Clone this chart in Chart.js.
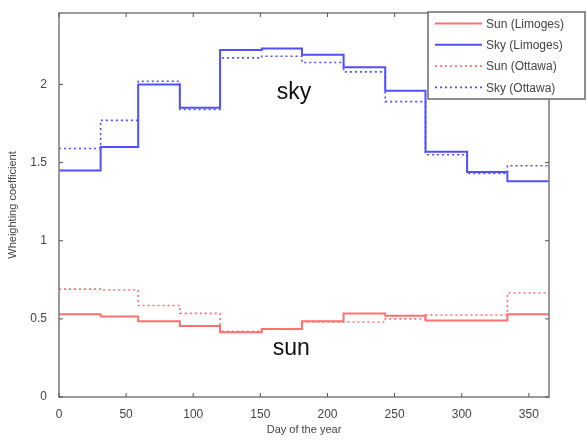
<!DOCTYPE html>
<html>
<head>
<meta charset="utf-8">
<script src="https://cdn.jsdelivr.net/npm/chart.js@4.4.0/dist/chart.umd.min.js"></script>
<style>
  html, body { margin: 0; padding: 0; background: #fff; }
  #wrap { width: 587px; height: 441px; }
</style>
</head>
<body>
<div id="wrap"><canvas id="myChart"></canvas></div>
<script>
// first day of each month, last point closes December
const days = [0, 31, 59, 90, 120, 151, 181, 212, 243, 273, 304, 334, 365];
const sunLimoges = [0.53, 0.515, 0.485, 0.455, 0.415, 0.435, 0.485, 0.535, 0.52, 0.49, 0.49, 0.53];
const skyLimoges = [1.45, 1.60, 2.00, 1.85, 2.22, 2.23, 2.19, 2.11, 1.96, 1.57, 1.44, 1.38];
const sunOttawa = [0.69, 0.685, 0.585, 0.535, 0.42, 0.435, 0.48, 0.48, 0.50, 0.525, 0.525, 0.665];
const skyOttawa = [1.59, 1.77, 2.02, 1.84, 2.17, 2.18, 2.14, 2.08, 1.89, 1.55, 1.43, 1.48];
const xTicks = [0, 50, 100, 150, 200, 250, 300, 350];
const yTicks = [0, 0.5, 1, 1.5, 2];

function steps(vals) {
  const pts = vals.map((v, i) => ({ x: days[i], y: v }));
  pts.push({ x: days[days.length - 1], y: vals[vals.length - 1] });
  return pts;
}

const red = '#ff7070';
const blue = '#5050ff';

const frame = {
  id: 'frame',
  afterDraw(chart) {
    const { ctx, chartArea: a, scales } = chart;
    ctx.save();
    ctx.strokeStyle = '#7a7a7a';
    ctx.lineWidth = 1.5;
    ctx.strokeRect(a.left, a.top, a.right - a.left, a.bottom - a.top);
    ctx.lineWidth = 1;
    ctx.strokeStyle = '#555';
    ctx.beginPath();
    xTicks.forEach(t => {
      const px = scales.x.getPixelForValue(t);
      ctx.moveTo(px, a.bottom); ctx.lineTo(px, a.bottom - 4);
      ctx.moveTo(px, a.top); ctx.lineTo(px, a.top + 4);
    });
    yTicks.forEach(t => {
      const py = scales.y.getPixelForValue(t);
      ctx.moveTo(a.left, py); ctx.lineTo(a.left + 4, py);
      ctx.moveTo(a.right, py); ctx.lineTo(a.right - 4, py);
    });
    ctx.stroke();

    // text labels inside the plot
    ctx.fillStyle = '#111';
    ctx.font = '23px Arial, "Liberation Sans", sans-serif';
    ctx.textAlign = 'center';
    ctx.textBaseline = 'middle';
    ctx.fillText('sky', scales.x.getPixelForValue(175), scales.y.getPixelForValue(1.95));
    ctx.fillText('sun', scales.x.getPixelForValue(173), scales.y.getPixelForValue(0.31));

    // legend box
    const bx = 428, by = 12, bw = 157, bh = 87;
    ctx.fillStyle = '#fff';
    ctx.fillRect(bx, by, bw, bh);
    ctx.strokeStyle = '#6a6a6a';
    ctx.lineWidth = 1.5;
    ctx.strokeRect(bx, by, bw, bh);
    ctx.font = '12px Arial, "Liberation Sans", sans-serif';
    ctx.textAlign = 'left';
    chart.data.datasets.forEach((ds, i) => {
      const y = by + 11.5 + i * 21.3;
      ctx.strokeStyle = ds.borderColor;
      ctx.lineWidth = ds.borderWidth;
      ctx.setLineDash(ds.borderDash || []);
      ctx.beginPath();
      ctx.moveTo(bx + 7, y); ctx.lineTo(bx + 54, y);
      ctx.stroke();
      ctx.setLineDash([]);
      ctx.fillStyle = '#444';
      ctx.fillText(ds.label, bx + 58, y + 1);
    });
    ctx.restore();
  }
};

const ctx = document.getElementById('myChart');
const myChart = new Chart(ctx, {
  type: 'line',
  data: {
    datasets: [
      { label: 'Sun (Limoges)', data: steps(sunLimoges), borderColor: red, borderWidth: 2, stepped: true },
      { label: 'Sky (Limoges)', data: steps(skyLimoges), borderColor: blue, borderWidth: 2, stepped: true },
      { label: 'Sun (Ottawa)', data: steps(sunOttawa), borderColor: red, borderWidth: 1.6, borderDash: [2, 3], stepped: true },
      { label: 'Sky (Ottawa)', data: steps(skyOttawa), borderColor: blue, borderWidth: 1.6, borderDash: [2, 3], stepped: true }
    ]
  },
  options: {
    responsive: true,
    maintainAspectRatio: false,
    animation: false,
    events: [],
    elements: { point: { radius: 0 } },
    layout: { padding: { top: 13, right: 38, left: 2, bottom: 0 } },
    plugins: { legend: { display: false }, tooltip: { enabled: false } },
    scales: {
      x: {
        type: 'linear',
        min: 0,
        max: 365,
        afterBuildTicks: s => { s.ticks = xTicks.map(v => ({ value: v })); },
        afterFit: s => { s.height = 44; },
        grid: { display: false },
        border: { display: false },
        ticks: { color: '#444', font: { size: 12, family: 'Arial' }, padding: 2, maxRotation: 0, callback: v => String(v) },
        title: { display: true, text: 'Day of the year', color: '#444', font: { size: 11, family: 'Arial' }, padding: { top: 2 } }
      },
      y: {
        min: 0,
        max: 2.457,
        afterBuildTicks: s => { s.ticks = yTicks.map(v => ({ value: v })); },
        afterFit: s => { s.width = 57; },
        grid: { display: false },
        border: { display: false },
        ticks: { color: '#444', font: { size: 12, family: 'Arial' }, padding: 4, callback: v => String(v) },
        title: { display: true, text: 'Wheighting coefficient', color: '#444', font: { size: 11, family: 'Arial' }, padding: { bottom: 6 } }
      }
    }
  },
  plugins: [frame]
});
</script>
</body>
</html>
